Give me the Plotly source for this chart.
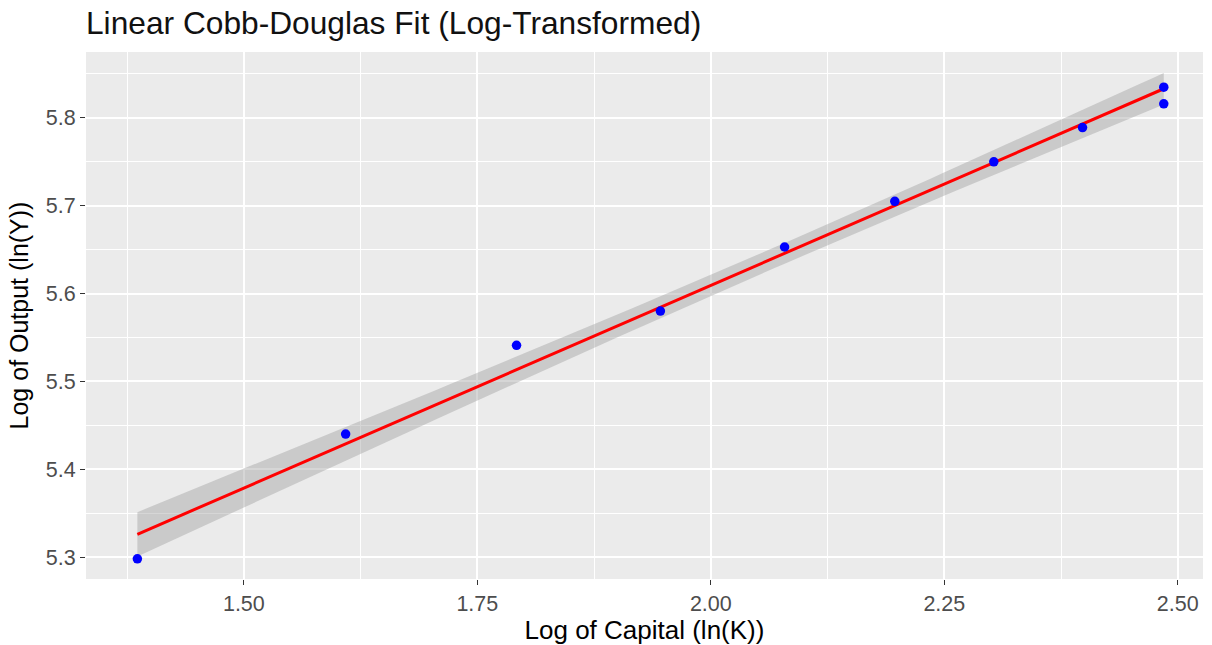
import numpy as np
import plotly.graph_objects as go

# Data
log_capital = [1.386, 1.609, 1.792, 1.946, 2.079, 2.197, 2.303, 2.398, 2.485, 2.485]
log_output = [5.298, 5.440, 5.541, 5.580, 5.653, 5.705, 5.750, 5.789, 5.835, 5.816]
x_ticks = [1.50, 1.75, 2.00, 2.25, 2.50]
x_tick_labels = ["1.50", "1.75", "2.00", "2.25", "2.50"]
y_ticks = [5.3, 5.4, 5.5, 5.6, 5.7, 5.8]
y_tick_labels = ["5.3", "5.4", "5.5", "5.6", "5.7", "5.8"]
T_CRIT = 2.306  # t(0.975, df=8), as used by geom_smooth(method="lm")

# Linear fit with 95% confidence band (as geom_smooth does)
x = np.array(log_capital)
y = np.array(log_output)
n = len(x)
b1, b0 = np.polyfit(x, y, 1)
resid = y - (b0 + b1 * x)
s = np.sqrt(np.sum(resid ** 2) / (n - 2))
xs = np.linspace(x.min(), x.max(), 80)
ys = b0 + b1 * xs
se = s * np.sqrt(1 / n + (xs - x.mean()) ** 2 / np.sum((x - x.mean()) ** 2))
lo = ys - T_CRIT * se
hi = ys + T_CRIT * se

FONT = "Liberation Sans, Arial, sans-serif"

fig = go.Figure()
fig.add_trace(go.Scatter(
    x=np.concatenate([xs, xs[::-1]]), y=np.concatenate([hi, lo[::-1]]),
    fill="toself", fillcolor="rgba(153,153,153,0.4)", line=dict(width=0),
    hoverinfo="skip", showlegend=False))
fig.add_trace(go.Scatter(x=xs, y=ys, mode="lines",
                         line=dict(color="#ff0000", width=3), showlegend=False))
fig.add_trace(go.Scatter(x=log_capital, y=log_output, mode="markers",
                         marker=dict(color="#0000ff", size=9.5), showlegend=False))

axis_common = dict(
    showgrid=True, gridcolor="white", gridwidth=1.6,
    zeroline=False, showline=False, automargin=False,
    ticks="outside", ticklen=5, tickwidth=1.4, tickcolor="#333333",
    tickfont=dict(family=FONT, size=21.5, color="#4d4d4d"),
)

fig.update_layout(
    width=1212, height=645,
    paper_bgcolor="white", plot_bgcolor="#ebebeb",
    margin=dict(l=86, r=9, t=52, b=66),
    title=dict(text="Linear Cobb-Douglas Fit (Log-Transformed)",
               x=86 / 1212, xanchor="left", y=1 - 23 / 645, yanchor="middle",
               font=dict(family=FONT, size=31.7, color="#111111")),
    xaxis=dict(axis_common, range=[1.331, 2.527], tickvals=x_ticks, ticktext=x_tick_labels,
               title=dict(text="Log of Capital (ln(K))", standoff=8,
                          font=dict(family=FONT, size=26, color="black")),
               minor=dict(tickvals=[1.375, 1.625, 1.875, 2.125, 2.375], showgrid=True,
                          gridcolor="white", gridwidth=0.8, ticks="")),
    yaxis=dict(axis_common, range=[5.275, 5.875], tickvals=y_ticks, ticktext=y_tick_labels,
               title=dict(text="Log of Output (ln(Y))", standoff=10,
                          font=dict(family=FONT, size=25, color="black")),
               minor=dict(tickvals=[5.25, 5.35, 5.45, 5.55, 5.65, 5.75, 5.85], showgrid=True,
                          gridcolor="white", gridwidth=0.8, ticks="")),
)

fig.write_html("out.html", config={"displayModeBar": False},
               post_script="document.body.style.margin='0';document.body.style.overflow='hidden';")
